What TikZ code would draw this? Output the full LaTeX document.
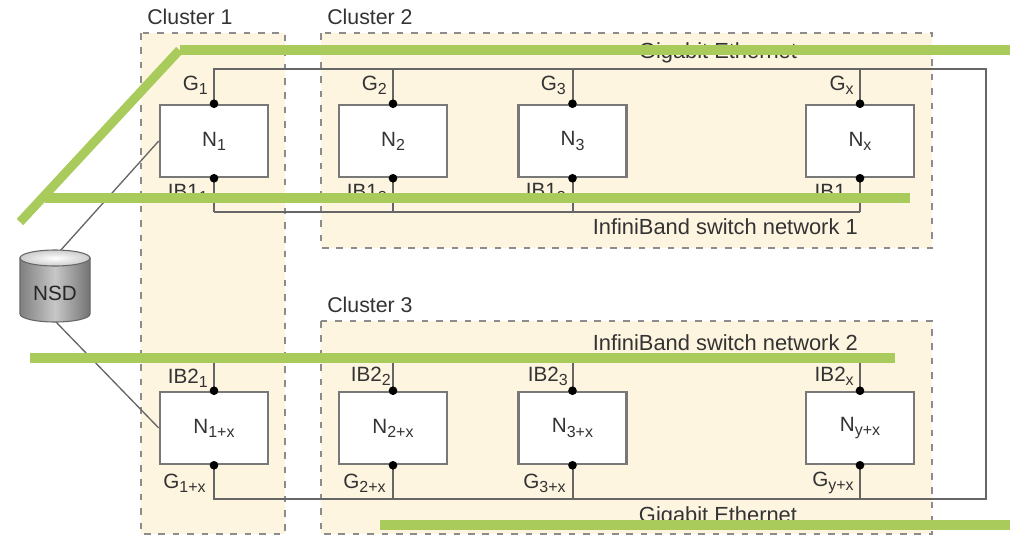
\documentclass[tikz,border=0pt]{standalone}
\usepackage{fontspec}
\setmainfont{Liberation Sans}
\usetikzlibrary{calc}
\definecolor{txt}{HTML}{333333}
\definecolor{zone}{HTML}{FEF5E0}
\definecolor{dashc}{HTML}{8C8C8C}
\definecolor{boxc}{HTML}{787878}
\definecolor{wirec}{HTML}{666666}
\definecolor{leaf}{HTML}{A9CB5C}
\newcommand{\idx}[1]{\raisebox{-0.38ex}{\fontsize{12}{12}\selectfont #1}}
\tikzset{
  x=0.75pt,y=-0.75pt,
  clusterbox/.style={draw=dashc,fill=zone,line width=1.9pt,dash pattern=on 5pt off 5.8pt},
  server/.style={draw=boxc,fill=white,line width=1.9pt,minimum width=81pt,minimum height=54pt,inner sep=0pt,text=txt,font=\fontsize{15.5}{15.5}\selectfont},
  wire/.style={draw=wirec,line width=1.5pt,line join=miter},
  thin wire/.style={draw=wirec,line width=1pt},
  port/.style={circle,fill=black,inner sep=0pt,minimum size=6.5pt},
  lab/.style={text=txt,font=\fontsize{15.5}{15.5}\selectfont,inner sep=0pt},
  clab/.style={text=txt,font=\fontsize{16}{16}\selectfont,inner sep=0pt},
  net/.style={text=txt,font=\fontsize{16.4}{16.4}\selectfont,inner sep=0pt},
  overlay bar/.style={draw=leaf,line width=6.8pt},
}
\begin{document}
\begin{tikzpicture}
\useasboundingbox (0,0) rectangle (1010,536);
% clusters
\path[clusterbox] (141,33) rectangle (285,534);
\path[clusterbox] (321,33) rectangle (932,248);
\path[clusterbox] (321,321) rectangle (932,534);
\node[clab,anchor=west] (c1) at (147,17) {Cluster 1};
\node[clab,anchor=west] (c2) at (327,17) {Cluster 2};
\node[clab,anchor=west] (c3) at (327,305) {Cluster 3};
% bus coordinates
\coordinate (gTL) at (213,69);
\coordinate (gTR) at (986,69);
\coordinate (gBR) at (986,499);
\coordinate (gBL) at (213,499);
\coordinate (ib1) at (860,212);
\coordinate (ib2) at (860,358);
% servers
\node[server] (n1) at (214,141) {N\idx{1}};
\node[server] (n2) at (393,141) {N\idx{2}};
\node[server] (n3) at (572.5,141) {N\idx{3}};
\node[server] (nx) at (860,141) {N\idx{x}};
\node[server] (m1) at (214,428) {N\idx{1+x}};
\node[server] (m2) at (393,428) {N\idx{2+x}};
\node[server] (m3) at (572.5,428) {N\idx{3+x}};
\node[server] (mx) at (860,428) {N\idx{y+x}};
% buses
\draw[wire] (gBL) -- (gBR) -- (gTR) -- (gTL);
\foreach \n in {n1,n2,n3,nx}{
  \draw[wire] (\n.north) -- (\n.north |- gTL);
  \draw[wire] (\n.south) -- (\n.south |- ib1);
}
\draw[wire] (n1.south |- ib1) -- (ib1);
\foreach \n in {m1,m2,m3,mx}{
  \draw[wire] (\n.south) -- (\n.south |- gBL);
  \draw[wire] (\n.north) -- (\n.north |- ib2);
}
\foreach \n in {n1,n2,n3,nx,m1,m2,m3,mx}{
  \node[port] (\n t) at (\n.north) {};
  \node[port] (\n b) at (\n.south) {};
}
% port labels
\node[lab,anchor=east] (g1) at (208,85) {G\idx{1}};
\node[lab,anchor=east] (g2) at (387,85) {G\idx{2}};
\node[lab,anchor=east] (g3) at (566,85) {G\idx{3}};
\node[lab,anchor=east] (gx) at (854,85) {G\idx{x}};
\node[lab,anchor=east] (i11) at (208,193) {IB1\idx{1}};
\node[lab,anchor=east] (i12) at (387,193) {IB1\idx{2}};
\node[lab,anchor=east] (i13) at (566,193) {IB1\idx{3}};
\node[lab,anchor=east] (i1x) at (854,193) {IB1\idx{x}};
\node[lab,anchor=east] (i21) at (208,378) {IB2\idx{1}};
\node[lab,anchor=east] (i22) at (391,376) {IB2\idx{2}};
\node[lab,anchor=east] (i23) at (568,376) {IB2\idx{3}};
\node[lab,anchor=east] (i2x) at (854,376) {IB2\idx{x}};
\node[lab,anchor=east] (g1x) at (206,483) {G\idx{1+x}};
\node[lab,anchor=east] (g2x) at (386,483) {G\idx{2+x}};
\node[lab,anchor=east] (g3x) at (566,483) {G\idx{3+x}};
\node[lab,anchor=east] (gyx) at (854,483) {G\idx{y+x}};
% network labels
\node[net] (ge1) at (718,53) {Gigabit Ethernet};
\node[net] (ge2) at (718,517) {Gigabit Ethernet};
\node[net,anchor=east] (ib1l) at (858,227) {InfiniBand switch network 1};
\node[net,anchor=east] (ib2l) at (858,343) {InfiniBand switch network 2};
% NSD
\coordinate (nsdT) at (60,251);
\coordinate (nsdB) at (56,322);
\draw[thin wire] (nsdT) -- (n1.west);
\draw[thin wire] (nsdB) -- (m1.west);
\path[left color=black!50,right color=black!55,middle color=black!22,draw=black!60,line width=0.8pt]
  (20,258) -- (20,314) arc[start angle=180,end angle=0,x radius=35,y radius=8] -- (90,258) -- cycle;
\path[inner color=white,outer color=black!20,draw=black!60,line width=0.8pt] (55,258) ellipse[x radius=35,y radius=8];
\node[lab,text=black!85] (nsd) at (55,293) {NSD};
% green bars
\coordinate (a1) at (20,222); \coordinate (a2) at (179.5,50);
\coordinate (b1) at (180,50); \coordinate (b2) at (1010,50);
\coordinate (d1) at (45,198); \coordinate (d2) at (910,198);
\coordinate (e1) at (30,358); \coordinate (e2) at (895,358);
\coordinate (f1) at (380,525); \coordinate (f2) at (1010,525);
\draw[overlay bar] (a1) -- (a2);
\draw[overlay bar] (b1) -- (b2);
\draw[overlay bar] (d1) -- (d2);
\draw[overlay bar] (e1) -- (e2);
\draw[overlay bar] (f1) -- (f2);
\end{tikzpicture}
\end{document}
